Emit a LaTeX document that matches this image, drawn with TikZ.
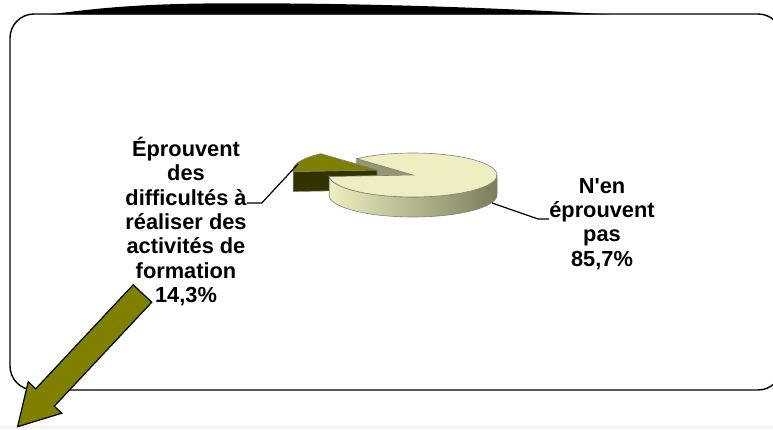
\documentclass[tikz,border=0pt]{standalone}
\usepackage{fontspec}
\newfontfamily\chartfont{Liberation Sans}
\definecolor{pieCream}{RGB}{238,238,192}
\definecolor{pieSide}{RGB}{125,125,90}
\definecolor{pieCut}{RGB}{150,150,112}
\definecolor{sliceOlive}{RGB}{128,128,0}
\definecolor{sliceDark}{RGB}{51,51,0}
\begin{document}
\begin{tikzpicture}[x=1pt,y=1pt,
	lbl/.style={font=\chartfont\bfseries\fontsize{21.8}{24.3}\selectfont,align=center,inner sep=0pt},
	leader/.style={draw=black,line width=1.2pt},
	edge/.style={draw=black!50,line width=0.6pt}]
	\useasboundingbox (0,0) rectangle (773,429);
	\fill[black!4] (0,0) rectangle (773,4);
	% frame
	\draw[line width=1.4pt,rounded corners=24] (10,39) rectangle (782,415);
	\fill (50,414.5) .. controls (110,423) and (160,425.5) .. (230,425.7) .. controls (380,426) and (520,420) .. (610,414.5) -- cycle;
	% pie
	\coordinate (bigC) at (413,254);
	\coordinate (smallC) at (377,259);
	\path[edge,fill=pieCut] (bigC) -- ++(132:84 and 22) -- ++(0,-20) -- ++(312:84 and 22) -- cycle;
	\path[edge,fill=sliceDark] (smallC) -- ++(184:84 and 22) -- ++(0,-20) -- ++(4:84 and 22) -- cycle;
	\path[edge,fill=sliceOlive] (smallC) -- ++(132:84 and 22) arc[start angle=132,end angle=184,x radius=84,y radius=22] -- cycle;
	\path[edge,left color=pieCream,middle color=pieCream!85!pieSide,right color=pieSide]
		(bigC) ++(184:84 and 22) arc[start angle=184,end angle=360,x radius=84,y radius=22]
		-- ++(0,-20) arc[start angle=360,end angle=184,x radius=84,y radius=22] -- cycle;
	\path[edge,fill=pieCream] (bigC) -- ++(184:84 and 22) arc[start angle=184,end angle=492,x radius=84,y radius=22] -- cycle;
	% labels
	\node[lbl,anchor=north] (lblSmall) at (186,292) {Éprouvent\\des\\difficultés à\\réaliser des\\activités de\\formation\\14,3\%};
	\node[lbl,anchor=north] (lblBig) at (602,251) {N'en\\éprouvent\\pas\\85,7\%};
	\coordinate (smallLead) at (lblSmall.east |- 0,226);
	\coordinate (smallEnd) at (298,265);
	\coordinate (bigLead) at (lblBig.west |- 0,210);
	\coordinate (bigEnd) at (492,226);
	\draw[leader] (smallLead) -- ++(15,0) -- (smallEnd);
	\draw[leader] (bigLead) -- ++(-11,0) -- (bigEnd);
	% arrow
	\draw[line width=1.2pt,fill=sliceOlive,line join=miter]
		(133.2,144.2) -- (35.7,40.2) -- (28.2,47.2) -- (17.6,2.3) -- (61.8,15.8) -- (54.3,22.8) -- (151.8,126.8) -- cycle;
\end{tikzpicture}
\end{document}
